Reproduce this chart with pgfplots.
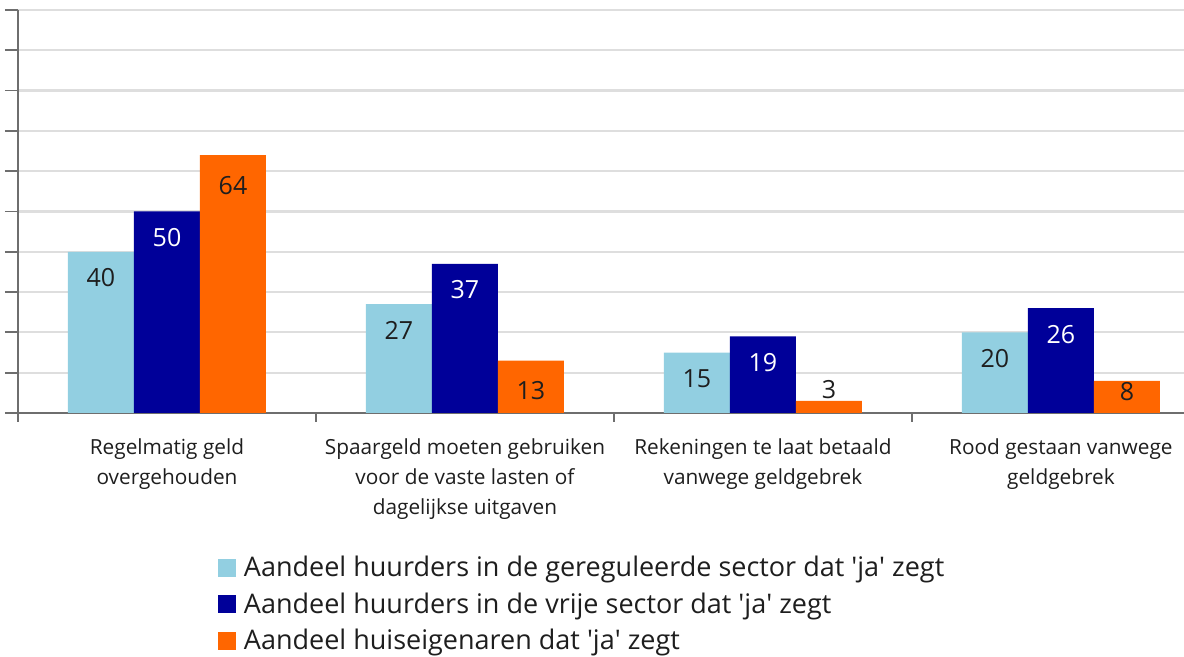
\documentclass[border=0pt]{standalone}
\usepackage{pgfplots}
\pgfplotsset{compat=1.18}
\usepackage{fontspec}
\setmainfont{Open Sans}
\definecolor{lblue}{RGB}{146,207,225}
\definecolor{dblue}{RGB}{0,0,153}
\definecolor{orng}{RGB}{255,102,0}
\definecolor{txt}{RGB}{30,30,30}
\definecolor{axgray}{RGB}{110,110,110}
\definecolor{grid}{RGB}{222,222,222}
\pgfplotsset{
  barlabel/.style={forget plot, draw=none, nodes near coords,
    every node near coord/.append style={anchor=center, yshift=#1, font=\fontsize{12.5}{14}\selectfont}},
}
\begin{document}
\begin{tikzpicture}
\useasboundingbox (0,0) rectangle (592pt,328.5pt);
\begin{axis}[
  at={(9pt,122pt)}, anchor=south west, scale only axis,
  width=583pt, height=201.5pt,
  xmin=-0.5, xmax=3.413, ymin=0, ymax=100,
  axis x line=bottom, axis y line=left,
  x axis line style={-, draw=axgray, line width=1pt},
  y axis line style={-, draw=axgray, line width=1pt},
  tick align=outside,
  ytick={0,10,...,100}, yticklabels={},
  ymajorgrids, grid style={draw=grid, line width=1.1pt},
  xtick={0,1,2,3},
  xticklabels={{Regelmatig geld\\overgehouden},
               {Spaargeld moeten gebruiken\\voor de vaste lasten of\\dagelijkse uitgaven},
               {Rekeningen te laat betaald\\vanwege geldgebrek},
               {Rood gestaan vanwege\\geldgebrek}},
  xticklabel style={align=center, font=\fontsize{10.4}{15}\selectfont, text=txt, inner sep=0pt, yshift=-6pt},
  major x tick style={draw=none},
  minor xtick={-0.5,0.5,1.5,2.5},
  minor tick length=4.5pt, major tick length=6.5pt,
  tick style={draw=axgray, line width=0.9pt},
  /pgf/number format/assume math mode=true,
  legend cell align=left,
  legend style={at={(0.1715,-0.344)}, anchor=north west, draw=none, fill=none,
    font=\fontsize{13.5}{16}\selectfont, row sep=2.5pt, inner sep=0pt, text=txt,
    nodes={inner xsep=3.8pt}},
  legend image code/.code={\fill[#1] (0pt,-4.5pt) rectangle (9pt,4.5pt);},
  clip=false,
]
\addplot[ybar, bar width=33pt, bar shift=-33pt, fill=lblue, draw=none]
  coordinates {(0,40) (1,27) (2,15) (3,20)};
\addlegendentry{Aandeel huurders in de gereguleerde sector dat \textquotesingle ja\textquotesingle\ zegt}
\addplot[ybar, bar width=33pt, bar shift=0pt, fill=dblue, draw=none]
  coordinates {(0,50) (1,37) (2,19) (3,26)};
\addlegendentry{Aandeel huurders in de vrije sector dat \textquotesingle ja\textquotesingle\ zegt}
\addplot[ybar, bar width=33pt, bar shift=33pt, fill=orng, draw=none]
  coordinates {(0,64) (1,13) (2,3) (3,8)};
\addlegendentry{Aandeel huiseigenaren dat \textquotesingle ja\textquotesingle\ zegt}
% value labels
\addplot[barlabel=-13pt, every node near coord/.append style={text=txt}]
  coordinates {(-0.2215,40) (0.7785,27) (1.7785,15) (2.7785,20)};
\addplot[barlabel=-13pt, every node near coord/.append style={text=white}]
  coordinates {(0,50) (1,37) (2,19) (3,26)};
\addplot[barlabel=-15pt, every node near coord/.append style={text=txt}]
  coordinates {(0.2215,64) (1.2215,13)};
\addplot[barlabel=5.5pt, every node near coord/.append style={text=txt}]
  coordinates {(2.2215,3)};
\addplot[barlabel=-5.5pt, every node near coord/.append style={text=txt}]
  coordinates {(3.2215,8)};
\end{axis}
\end{tikzpicture}
\end{document}
